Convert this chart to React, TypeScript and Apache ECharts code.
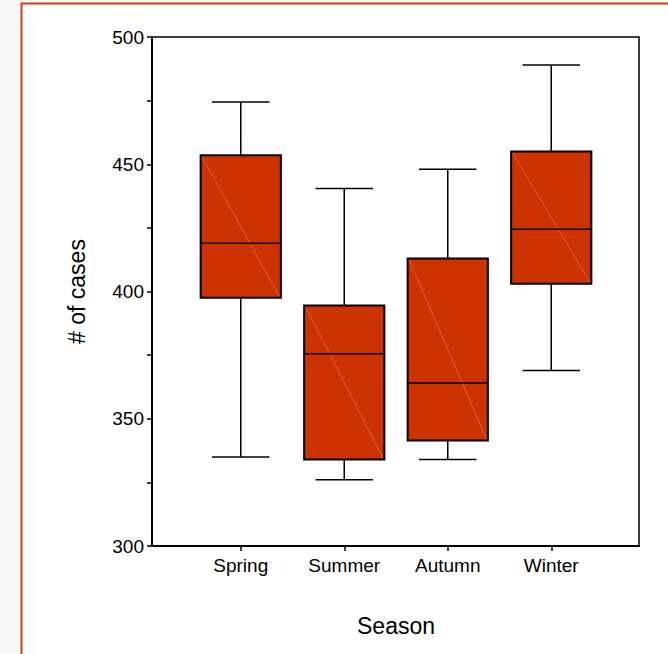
import React, { useEffect, useRef } from "react";
import * as echarts from "echarts";

const categories = ["Spring", "Summer", "Autumn", "Winter"];
const whiskerLow = [335, 326, 334, 369];
const q1Values = [397.5, 334, 341.5, 403];
const medianValues = [419, 375.5, 364, 424.5];
const q3Values = [453.5, 394.5, 413, 455];
const whiskerHigh = [474.5, 440.5, 448, 489];
const yTicks = [300, 350, 400, 450, 500];

const FONT = "'Liberation Sans', Arial, Helvetica, sans-serif";

export default function App() {
  const ref = useRef<HTMLDivElement>(null);
  useEffect(() => {
    if (!ref.current) return;
    const chart = echarts.init(ref.current, undefined, { renderer: "svg" });
    const data = categories.map((_, i) => [
      i,
      whiskerLow[i],
      q1Values[i],
      medianValues[i],
      q3Values[i],
      whiskerHigh[i],
    ]);
    const option: any = {
      animation: false,
      backgroundColor: "#f8f8f8",
      grid: { left: 189, right: 65, top: 37, bottom: 108 },
      xAxis: {
        type: "category",
        data: categories,
        boundaryGap: true,
        axisLine: { show: false },
        axisTick: {
          show: true,
          alignWithLabel: true,
          length: 5,
          lineStyle: { color: "#000", width: 1.5 },
        },
        axisLabel: { fontSize: 19, color: "#000", fontFamily: FONT, margin: 10 },
        splitLine: { show: false },
        name: "Season",
        nameLocation: "middle",
        nameGap: 68,
        nameTextStyle: { fontSize: 23, color: "#000", fontFamily: FONT },
      },
      yAxis: {
        type: "value",
        min: 300,
        max: 500,
        interval: 25,
        offset: 37,
        axisLine: { show: true, lineStyle: { color: "#000", width: 2 } },
        axisTick: { show: true, length: 5, lineStyle: { color: "#000", width: 1.5 } },
        axisLabel: {
          fontSize: 19,
          color: "#000",
          fontFamily: FONT,
          margin: 8,
          formatter: (v: number) => (yTicks.indexOf(v) >= 0 ? String(v) : ""),
        },
        splitLine: { show: false },
        name: "# of cases",
        nameLocation: "middle",
        nameGap: 64,
        nameTextStyle: { fontSize: 23, color: "#000", fontFamily: FONT },
      },
      graphic: [
        {
          type: "rect",
          z: -10,
          silent: true,
          shape: { x: 21.5, y: 3.5, width: 700, height: 700 },
          style: { fill: "#ffffff", stroke: "#cf4217", lineWidth: 2 },
        },
        {
          type: "rect",
          z: 1,
          silent: true,
          shape: { x: 152, y: 37, width: 487, height: 509 },
          style: { fill: "none", stroke: "#000", lineWidth: 1.5 },
        },
        {
          type: "line",
          z: 2,
          silent: true,
          shape: { x1: 151, y1: 546, x2: 640, y2: 546 },
          style: { stroke: "#000", lineWidth: 2 },
        },
      ],
      series: [
        {
          type: "custom",
          data,
          encode: { x: 0, y: [1, 2, 3, 4, 5] },
          renderItem: (params: any, api: any) => {
            const xi = api.value(0);
            const low = api.coord([xi, api.value(1)]);
            const q1 = api.coord([xi, api.value(2)]);
            const med = api.coord([xi, api.value(3)]);
            const q3 = api.coord([xi, api.value(4)]);
            const high = api.coord([xi, api.value(5)]);
            const band = api.size([1, 0])[0];
            const bw = band * 0.775;
            const cw = band * 0.555;
            const cx = low[0];
            const lineStyle = { stroke: "#000", lineWidth: 1.5 };
            return {
              type: "group",
              children: [
                { type: "line", shape: { x1: cx, y1: q3[1], x2: cx, y2: high[1] }, style: lineStyle },
                { type: "line", shape: { x1: cx, y1: q1[1], x2: cx, y2: low[1] }, style: lineStyle },
                { type: "line", shape: { x1: cx - cw / 2, y1: high[1], x2: cx + cw / 2, y2: high[1] }, style: lineStyle },
                { type: "line", shape: { x1: cx - cw / 2, y1: low[1], x2: cx + cw / 2, y2: low[1] }, style: lineStyle },
                {
                  type: "rect",
                  shape: { x: cx - bw / 2, y: q3[1], width: bw, height: q1[1] - q3[1] },
                  style: { fill: "#cc3300", stroke: "#000", lineWidth: 2 },
                },
                {
                  type: "line",
                  shape: { x1: cx - bw / 2 + 1.5, y1: q3[1] + 1.5, x2: cx + bw / 2 - 1.5, y2: q1[1] - 1.5 },
                  style: { stroke: "#e8784f", lineWidth: 0.8, opacity: 0.8 },
                },
                { type: "line", shape: { x1: cx - bw / 2, y1: med[1], x2: cx + bw / 2, y2: med[1] }, style: lineStyle },
              ],
            };
          },
        },
      ],
    };
    chart.setOption(option);
    return () => chart.dispose();
  }, []);
  return (
    <div
      ref={ref}
      style={{ position: "absolute", left: 0, top: 0, width: 668, height: 654 }}
    />
  );
}
